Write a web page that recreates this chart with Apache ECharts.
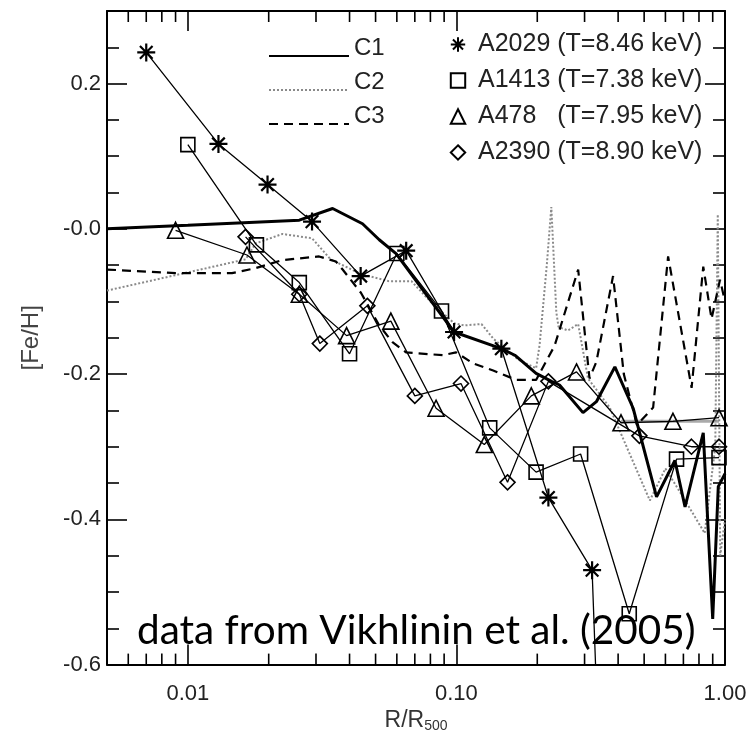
<!DOCTYPE html>
<html>
<head>
<meta charset="utf-8">
<script src="https://cdn.jsdelivr.net/npm/echarts@6/dist/echarts.min.js"></script>
<style>
  html, body { margin: 0; padding: 0; background: #fff; }
  #main { width: 753px; height: 738px; }
</style>
</head>
<body>
<div id="main"></div>
<script>
// axis ranges and tick values
const xRange = [0.005, 1.0];
const yRange = [-0.6, 0.3];
const xMinorTicks = [0.006, 0.007, 0.008, 0.009, 0.02, 0.03, 0.04, 0.05, 0.06, 0.07, 0.08, 0.09,
  0.2, 0.3, 0.4, 0.5, 0.6, 0.7, 0.8, 0.9];

// observed profiles, [R/R500, [Fe/H]]
const a2029 = [[0.007, 0.243], [0.013, 0.117], [0.0198, 0.061], [0.029, 0.01], [0.044, -0.065],
  [0.065, -0.03], [0.098, -0.142], [0.147, -0.165], [0.22, -0.37], [0.32, -0.47], [0.345, -0.8]];
const a1413 = [[0.01, 0.116], [0.018, -0.022], [0.026, -0.074], [0.04, -0.172], [0.06, -0.034],
  [0.088, -0.113], [0.133, -0.274], [0.198, -0.335], [0.29, -0.31], [0.44, -0.53], [0.66, -0.317], [0.95, -0.315]];
const a478 = [[0.009, -0.002], [0.0166, -0.036], [0.026, -0.09], [0.039, -0.147], [0.057, -0.127],
  [0.084, -0.247], [0.127, -0.297], [0.19, -0.23], [0.28, -0.197], [0.41, -0.267], [0.64, -0.265], [0.95, -0.26]];
const a2390 = [[0.0164, -0.011], [0.026, -0.09], [0.031, -0.158], [0.0466, -0.106], [0.07, -0.23],
  [0.104, -0.213], [0.155, -0.349], [0.22, -0.21], [0.48, -0.285], [0.75, -0.3], [0.95, -0.3]];
const a478Outer = [[0.41, -0.265], [0.95, -0.265]];

// simulated profiles
const c1 = [[0.005, 0.0], [0.01, 0.005], [0.026, 0.012], [0.0346, 0.028], [0.0447, 0.007], [0.0516, -0.015],
  [0.0596, -0.034], [0.098, -0.142], [0.147, -0.165], [0.165, -0.174], [0.198, -0.199], [0.226, -0.21],
  [0.242, -0.215], [0.296, -0.253], [0.332, -0.238], [0.389, -0.19], [0.455, -0.247], [0.556, -0.369],
  [0.651, -0.319], [0.71, -0.383], [0.83, -0.281], [0.9, -0.537], [0.944, -0.355], [1.0, -0.337]];
const c2 = [[0.005, -0.085], [0.0164, -0.042], [0.0179, -0.02], [0.0225, -0.007], [0.029, -0.013],
  [0.034, -0.042], [0.044, -0.062], [0.056, -0.072], [0.068, -0.072], [0.08, -0.1], [0.098, -0.13],
  [0.107, -0.133], [0.124, -0.131], [0.137, -0.151], [0.17, -0.18], [0.198, -0.192], [0.204, -0.16],
  [0.217, -0.05], [0.2256, 0.03], [0.231, -0.05], [0.2355, -0.115], [0.24, -0.135], [0.26, -0.14],
  [0.284, -0.131], [0.309, -0.206], [0.372, -0.246], [0.525, -0.374], [0.6, -0.33], [0.7, -0.37],
  [0.84, -0.419], [0.92, -0.3], [0.94, 0.02], [0.96, -0.45], [1.0, -0.4]];
const c3 = [[0.005, -0.056], [0.009, -0.061], [0.0146, -0.061], [0.0179, -0.054], [0.0225, -0.043],
  [0.0308, -0.038], [0.0356, -0.045], [0.0377, -0.056], [0.0441, -0.088], [0.0516, -0.133], [0.0578, -0.156],
  [0.0649, -0.17], [0.0889, -0.174], [0.0997, -0.17], [0.115, -0.185], [0.137, -0.195], [0.167, -0.208],
  [0.198, -0.208], [0.232, -0.161], [0.284, -0.056], [0.313, -0.206], [0.332, -0.183], [0.383, -0.065],
  [0.42, -0.2], [0.47, -0.27], [0.54, -0.246], [0.614, -0.038], [0.751, -0.219], [0.83, -0.052],
  [0.891, -0.124], [0.958, -0.07], [1.0, -0.1]];

const names = {
  a2029: 'A2029 (T=8.46 keV)',
  a1413: 'A1413 (T=7.38 keV)',
  a478: 'A478   (T=7.95 keV)',
  a2390: 'A2390 (T=8.90 keV)'
};
const starPath = 'path://M10,0L10,20M0,10L20,10M3,3L17,17M3,17L17,3';
const labelFont = 'Liberation Sans, Arial, sans-serif';

let myChart = echarts.init(document.getElementById('main'));

function markerSeries(name, data, symbol, size, border) {
  return {
    name: name,
    type: 'line',
    data: data,
    symbol: symbol,
    symbolSize: size,
    showSymbol: true,
    lineStyle: { color: '#000', width: 1.3 },
    itemStyle: { color: 'transparent', borderColor: '#000', borderWidth: border || 1.6 },
    z: 4
  };
}

let option = {
  backgroundColor: '#fff',
  animation: false,
  grid: { left: 107, right: 28, top: 11, bottom: 62 },
  legend: [
    {
      orient: 'vertical',
      left: 263,
      top: 31,
      itemWidth: 80,
      itemHeight: 10,
      itemGap: -6,
      data: [
        { name: 'C1', itemStyle: { opacity: 0 } },
        { name: 'C2', itemStyle: { opacity: 0 } },
        { name: 'C3', itemStyle: { opacity: 0 } }
      ],
      formatter: name => '{t|' + name + '}',
      textStyle: {
        rich: { t: { fontSize: 24, lineHeight: 24, color: '#222', fontFamily: labelFont, padding: [0, 0, 16, 0] } }
      }
    },
    {
      orient: 'vertical',
      left: 437,
      top: 27,
      itemWidth: 30,
      itemHeight: 18,
      itemGap: 11,
      lineStyle: { opacity: 0 },
      data: [names.a2029, names.a1413, names.a478, names.a2390],
      textStyle: { fontSize: 25, color: '#222', fontFamily: labelFont }
    }
  ],
  xAxis: [
    {
      type: 'log',
      logBase: 10,
      min: xRange[0],
      max: xRange[1],
      name: '{a|R/R}{s|500}',
      nameLocation: 'middle',
      nameGap: 44,
      nameTextStyle: {
        rich: {
          a: { fontSize: 23, color: '#333', fontFamily: labelFont },
          s: { fontSize: 14, color: '#333', fontFamily: labelFont, padding: [10, 0, 0, 0] }
        }
      },
      axisLine: { onZero: false, lineStyle: { color: '#000', width: 2 } },
      axisTick: { inside: true, length: 20, lineStyle: { color: '#000', width: 1.6 } },
      axisLabel: {
        showMinLabel: false,
        margin: 18,
        fontSize: 22,
        color: '#222',
        fontFamily: labelFont,
        formatter: v => v.toFixed(2)
      },
      splitLine: { show: false }
    },
    {
      type: 'log',
      logBase: 10,
      position: 'top',
      min: xRange[0],
      max: xRange[1],
      axisLine: { onZero: false, lineStyle: { color: '#000', width: 2 } },
      axisTick: { inside: true, length: 20, lineStyle: { color: '#000', width: 1.6 } },
      axisLabel: { show: false },
      splitLine: { show: false }
    }
  ],
  yAxis: [
    {
      type: 'value',
      min: yRange[0],
      max: yRange[1],
      interval: 0.2,
      name: '[Fe/H]',
      nameLocation: 'middle',
      nameGap: 64,
      nameTextStyle: { fontSize: 24, color: '#444', fontFamily: labelFont },
      axisLine: { onZero: false, lineStyle: { color: '#000', width: 2 } },
      axisTick: { inside: true, length: 20, lineStyle: { color: '#000', width: 1.6 } },
      minorTick: { show: true, splitNumber: 4, length: 12, lineStyle: { color: '#000', width: 1.6 } },
      axisLabel: {
        showMaxLabel: false,
        margin: 6,
        fontSize: 22,
        color: '#222',
        fontFamily: labelFont,
        formatter: v => (Math.abs(v) < 1e-9 ? '-0.0' : v.toFixed(1))
      },
      splitLine: { show: false }
    },
    {
      type: 'value',
      position: 'right',
      min: yRange[0],
      max: yRange[1],
      interval: 0.2,
      axisLine: { onZero: false, lineStyle: { color: '#000', width: 2 } },
      axisTick: { inside: true, length: 20, lineStyle: { color: '#000', width: 1.6 } },
      minorTick: { show: true, splitNumber: 4, length: 12, lineStyle: { color: '#000', width: 1.6 } },
      axisLabel: { show: false },
      splitLine: { show: false }
    }
  ],
  graphic: [
    {
      type: 'text',
      left: 137,
      top: 610,
      z: 10,
      style: { text: 'data from Vikhlinin et al. (2005)', font: '40.5px Lato', fill: '#000' }
    }
  ],
  series: [
    {
      name: 'C1', type: 'line', data: c1, symbol: 'none',
      lineStyle: { color: '#000', width: 3 }, itemStyle: { color: '#000' }, z: 3
    },
    {
      name: 'C2', type: 'line', data: c2, symbol: 'none',
      lineStyle: { color: '#8a8a8a', width: 2, type: [2, 2] }, itemStyle: { color: '#8a8a8a' }, z: 2
    },
    {
      name: 'C3', type: 'line', data: c3, symbol: 'none',
      lineStyle: { color: '#000', width: 2.2, type: [9, 6] }, itemStyle: { color: '#000' }, z: 2
    },
    {
      name: 'A478 outer', type: 'line', data: a478Outer, symbol: 'none',
      lineStyle: { color: '#aaa', width: 3 }, z: 1
    },
    markerSeries(names.a2029, a2029, starPath, 18, 2.2),
    markerSeries(names.a1413, a1413, 'rect', 14),
    markerSeries(names.a478, a478, 'triangle', 16),
    markerSeries(names.a2390, a2390, 'diamond', 15),
    {
      // minor ticks of the log axis, bottom and top
      type: 'custom',
      silent: true,
      clip: false,
      data: xMinorTicks.map(v => [v, yRange[0]]),
      encode: { x: 0, y: 1 },
      renderItem: function (params, api) {
        const x = api.coord([api.value(0), yRange[0]])[0];
        const cs = params.coordSys;
        const st = { stroke: '#000', lineWidth: 1.6 };
        return {
          type: 'group',
          children: [
            { type: 'line', shape: { x1: x, y1: cs.y + cs.height, x2: x, y2: cs.y + cs.height - 11 }, style: st },
            { type: 'line', shape: { x1: x, y1: cs.y, x2: x, y2: cs.y + 11 }, style: st }
          ]
        };
      },
      z: 5
    }
  ]
};
myChart.setOption(option);
</script>
</body>
</html>
